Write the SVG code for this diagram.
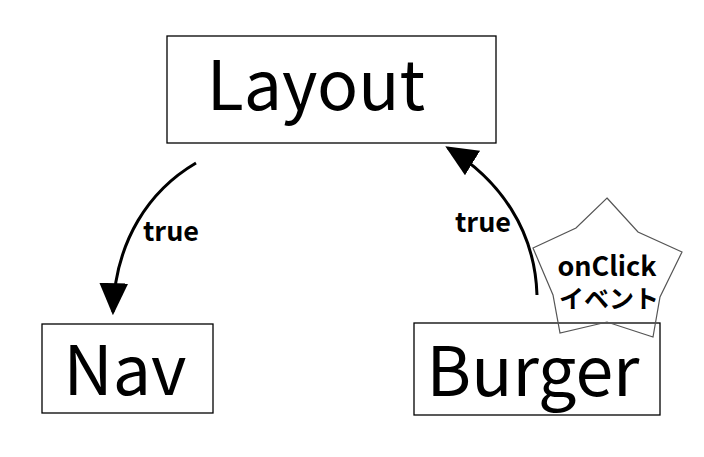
<svg xmlns="http://www.w3.org/2000/svg" width="704" height="457" viewBox="0 0 704 457">
<style>
.box{fill:#fff;stroke:#000;stroke-width:1.3}
.big{font-family:"Noto Sans CJK JP","Noto Sans",sans-serif;font-size:68px;fill:#000}
.lbl{font-family:"Noto Sans CJK JP","Noto Sans",sans-serif;font-size:27px;font-weight:bold;fill:#000}
.sm{font-size:25px}
.edge{fill:none;stroke:#000;stroke-width:3}
</style>
<defs>
<marker id="a" viewBox="0 0 10 10" refX="9" refY="5" markerWidth="32" markerHeight="32" markerUnits="userSpaceOnUse" orient="auto"><path d="M0,0.5 L10,5 L0,9.5 z" fill="#000"/></marker></defs>
<g id="layout"><rect class="box" x="167" y="36" width="329" height="107"/><text class="big" x="316" y="110" text-anchor="middle">Layout</text></g>
<g id="nav"><rect class="box" x="42" y="324" width="171" height="89"/><text class="big" x="125" y="395" text-anchor="middle">Nav</text></g>
<g id="burger"><rect class="box" x="414" y="323" width="246" height="92"/><text class="big" x="533" y="396" text-anchor="middle">Burger</text></g>
<g id="connectors">
<path class="edge" d="M196,163 C150,190 115,240 113,312" marker-end="url(#a)"/>
<text class="lbl" x="143" y="241">true</text>
<path class="edge" d="M537,295 C535,230 500,180 448,148" marker-end="url(#a)"/>
<text class="lbl" x="455" y="232">true</text>
</g>
<g id="onclick">
<polygon points="607,198 638,232 682,252 660,297 653,337 607,322 560,333 553,295 533,248 576,228" fill="none" stroke="#555" stroke-width="1.2"/>
<text class="lbl" x="607" y="276" text-anchor="middle">onClick</text>
<text class="lbl sm" x="609" y="308" text-anchor="middle">イベント</text>
</g>
</svg>
